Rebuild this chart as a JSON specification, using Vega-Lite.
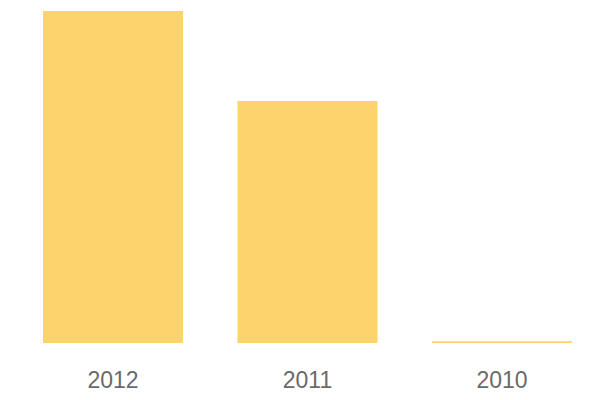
{
  "$schema": "https://vega.github.io/schema/vega-lite/v6.json",
  "autosize": "none",
  "width": 585,
  "height": 332,
  "padding": {"left": 15, "top": 11, "right": 0, "bottom": 57},
  "background": "white",
  "data": {"values": [
    {"year": "2012", "value": 100},
    {"year": "2011", "value": 72.9},
    {"year": "2010", "value": 0.5}
  ]},
  "mark": {"type": "bar", "color": "#FDD46B"},
  "encoding": {
    "x": {"field": "year", "type": "nominal", "sort": null,
      "scale": {"paddingInner": 0.28, "paddingOuter": 0.144},
      "axis": {"title": null, "domain": false, "ticks": false, "labelAngle": 0, "labelFont": "Liberation Sans", "labelFontSize": 23, "labelColor": "#6a6a6a", "labelPadding": 26}},
    "y": {"field": "value", "type": "quantitative", "scale": {"domain": [0, 100]}, "axis": null}
  },
  "config": {"view": {"stroke": null}}
}
